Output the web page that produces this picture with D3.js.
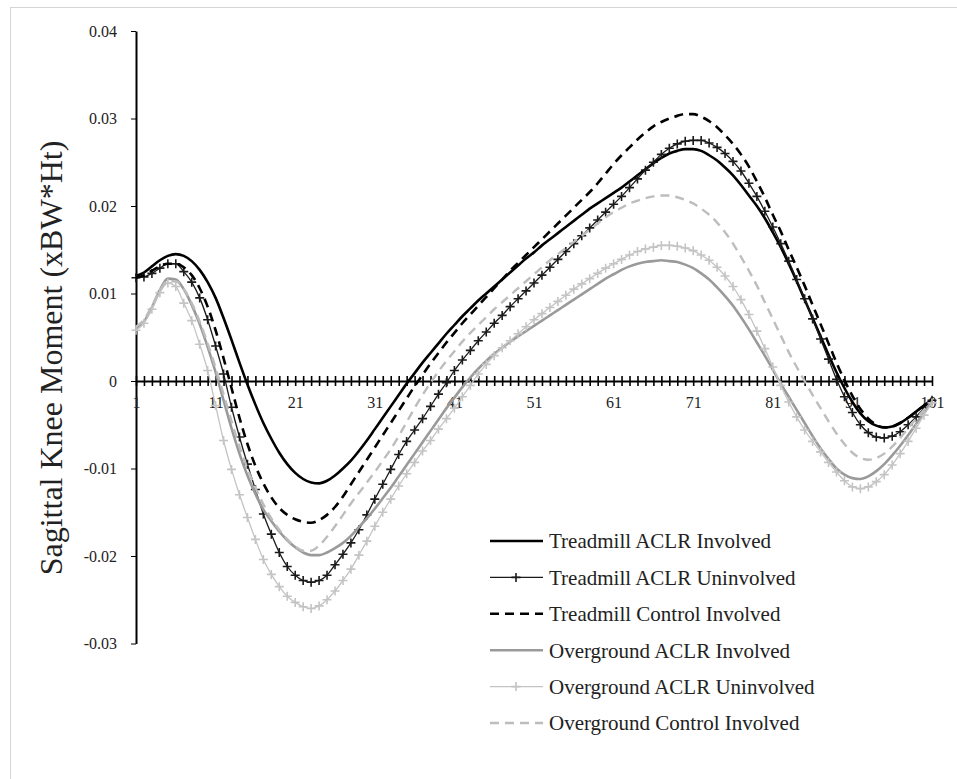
<!DOCTYPE html>
<html lang="en">
<head>
  <meta charset="UTF-8">
  <script src="https://d3js.org/d3.v7.min.js"></script>
  <title>Sagittal Knee Moment</title>
  <style>
  body {
    margin:0;
    background-color:#fff;
    font-family: "Liberation Serif", "Times New Roman", serif;
  }
  .axis text {
    font-family: "Liberation Serif", "Times New Roman", serif;
    font-size:16px;
    fill:#222;
  }
  .axis path, .axis line {
    stroke:#000;
  }
  .legend text {
    font-size:21px;
    fill:#222;
  }
  </style>
</head>
<body>
  <svg id="chart" width="957" height="779"></svg>

  <script>
  // % of stance (x categories)
  const stance = d3.range(1, 102);
  const xLabels = [1, 11, 21, 31, 41, 51, 61, 71, 81, 91, 101];
  const yTicks = [-0.03, -0.02, -0.01, 0, 0.01, 0.02, 0.03, 0.04];

  const seriesNames = ["Treadmill ACLR Involved", "Treadmill ACLR Uninvolved", "Treadmill Control Involved",
    "Overground ACLR Involved", "Overground ACLR Uninvolved", "Overground Control Involved"];

  const tmAclrInv = [
    0.0120, 0.0124, 0.0131, 0.0138, 0.0143, 0.0145, 0.0143, 0.0137, 0.0127, 0.0113,
    0.0095, 0.0072, 0.0047, 0.0021, -0.0004, -0.0027, -0.0048, -0.0066, -0.0082, -0.0095,
    -0.0105, -0.0112, -0.0116, -0.0117, -0.0114, -0.0108, -0.0100, -0.0091, -0.0080, -0.0068,
    -0.0055, -0.0042, -0.0029, -0.0016, -0.0003, 0.0009, 0.0021, 0.0032, 0.0043, 0.0054,
    0.0064, 0.0074, 0.0083, 0.0092, 0.0100, 0.0108, 0.0116, 0.0124, 0.0132, 0.0140,
    0.0147, 0.0155, 0.0162, 0.0169, 0.0176, 0.0183, 0.0190, 0.0197, 0.0203, 0.0209,
    0.0215, 0.0221, 0.0228, 0.0235, 0.0242, 0.0249, 0.0255, 0.0260, 0.0263, 0.0265,
    0.0265, 0.0263, 0.0258, 0.0252, 0.0244, 0.0235, 0.0224, 0.0212, 0.0200, 0.0186,
    0.0170, 0.0153, 0.0134, 0.0114, 0.0093, 0.0072, 0.0051, 0.0030, 0.0010, -0.0008,
    -0.0024, -0.0037, -0.0046, -0.0051, -0.0053, -0.0052, -0.0048, -0.0042, -0.0035, -0.0028, -0.0021];

  const tmAclrUninv = [
    0.0118, 0.0119, 0.0123, 0.0129, 0.0134, 0.0134, 0.0125, 0.0113, 0.0095, 0.0070,
    0.0040, 0.0008, -0.0030, -0.0064, -0.0095, -0.0124, -0.0152, -0.0175, -0.0196, -0.0212,
    -0.0222, -0.0228, -0.0230, -0.0228, -0.0222, -0.0210, -0.0198, -0.0185, -0.0170, -0.0153,
    -0.0135, -0.0118, -0.0101, -0.0084, -0.0069, -0.0056, -0.0043, -0.0029, -0.0015, -0.0002,
    0.0012, 0.0024, 0.0035, 0.0046, 0.0056, 0.0066, 0.0075, 0.0085, 0.0094, 0.0103,
    0.0112, 0.0121, 0.0130, 0.0139, 0.0148, 0.0157, 0.0166, 0.0175, 0.0184, 0.0193,
    0.0202, 0.0211, 0.0221, 0.0231, 0.0241, 0.0250, 0.0259, 0.0266, 0.0271, 0.0274,
    0.0275, 0.0275, 0.0272, 0.0267, 0.0260, 0.0251, 0.0240, 0.0226, 0.0211, 0.0194,
    0.0176, 0.0157, 0.0137, 0.0116, 0.0094, 0.0071, 0.0048, 0.0025, 0.0002, -0.0018,
    -0.0036, -0.0050, -0.0059, -0.0064, -0.0065, -0.0063, -0.0058, -0.0050, -0.0041, -0.0031, -0.0022];

  const tmCtrlInv = [
    0.0118, 0.0121, 0.0126, 0.0131, 0.0134, 0.0134, 0.0130, 0.0121, 0.0106, 0.0085,
    0.0058, 0.0026, -0.0008, -0.0042, -0.0072, -0.0097, -0.0117, -0.0133, -0.0145, -0.0153,
    -0.0158, -0.0161, -0.0162, -0.0159, -0.0153, -0.0144, -0.0132, -0.0118, -0.0104, -0.0090,
    -0.0076, -0.0062, -0.0048, -0.0034, -0.0020, -0.0006, 0.0007, 0.0020, 0.0032, 0.0044,
    0.0055, 0.0066, 0.0076, 0.0086, 0.0096, 0.0106, 0.0116, 0.0126, 0.0135, 0.0144,
    0.0153, 0.0162, 0.0171, 0.0180, 0.0189, 0.0198, 0.0207, 0.0216, 0.0226, 0.0237,
    0.0248, 0.0258, 0.0267, 0.0276, 0.0284, 0.0291, 0.0296, 0.0300, 0.0303, 0.0305,
    0.0305, 0.0302, 0.0297, 0.0290, 0.0281, 0.0271, 0.0259, 0.0245, 0.0228, 0.0210,
    0.0190, 0.0171, 0.0150, 0.0130, 0.0109, 0.0087, 0.0065, 0.0043, 0.0021, 0.0001,
    -0.0017, -0.0032, -0.0043, -0.0050, -0.0053, -0.0052, -0.0048, -0.0042, -0.0035, -0.0028, -0.0022];

  const ogAclrInv = [
    0.0060, 0.0068, 0.0084, 0.0104, 0.0117, 0.0116, 0.0105, 0.0087, 0.0065, 0.0039,
    0.0010, -0.0022, -0.0054, -0.0083, -0.0108, -0.0129, -0.0147, -0.0160, -0.0172, -0.0182,
    -0.0190, -0.0196, -0.0199, -0.0199, -0.0196, -0.0191, -0.0185, -0.0177, -0.0167, -0.0157,
    -0.0146, -0.0134, -0.0122, -0.0109, -0.0096, -0.0083, -0.0070, -0.0057, -0.0044, -0.0031,
    -0.0019, -0.0007, 0.0004, 0.0014, 0.0023, 0.0031, 0.0038, 0.0045, 0.0051, 0.0057,
    0.0063, 0.0069, 0.0075, 0.0081, 0.0087, 0.0093, 0.0099, 0.0105, 0.0111, 0.0117,
    0.0122, 0.0127, 0.0131, 0.0134, 0.0136, 0.0137, 0.0138, 0.0137, 0.0136, 0.0133,
    0.0129, 0.0123, 0.0116, 0.0107, 0.0097, 0.0086, 0.0073, 0.0059, 0.0044, 0.0029,
    0.0013, -0.0003, -0.0018, -0.0033, -0.0048, -0.0063, -0.0077, -0.0089, -0.0100, -0.0107,
    -0.0111, -0.0112, -0.0109, -0.0103, -0.0095, -0.0085, -0.0074, -0.0062, -0.0049, -0.0036, -0.0024];

  const ogAclrUninv = [
    0.0058, 0.0066, 0.0082, 0.0101, 0.0112, 0.0108, 0.0089, 0.0069, 0.0042, 0.0012,
    -0.0028, -0.0068, -0.0101, -0.0130, -0.0156, -0.0181, -0.0204, -0.0221, -0.0235, -0.0246,
    -0.0253, -0.0258, -0.0260, -0.0257, -0.0250, -0.0240, -0.0228, -0.0215, -0.0199, -0.0183,
    -0.0166, -0.0150, -0.0135, -0.0120, -0.0106, -0.0093, -0.0080, -0.0068, -0.0055, -0.0043,
    -0.0031, -0.0018, -0.0005, 0.0008, 0.0019, 0.0029, 0.0038, 0.0046, 0.0054, 0.0062,
    0.0070, 0.0077, 0.0084, 0.0091, 0.0098, 0.0105, 0.0111, 0.0117, 0.0123, 0.0129,
    0.0134, 0.0139, 0.0144, 0.0148, 0.0151, 0.0153, 0.0155, 0.0155, 0.0154, 0.0152,
    0.0149, 0.0144, 0.0138, 0.0130, 0.0120, 0.0108, 0.0093, 0.0076, 0.0057, 0.0037,
    0.0016, -0.0005, -0.0024, -0.0041, -0.0056, -0.0069, -0.0081, -0.0093, -0.0104, -0.0114,
    -0.0121, -0.0123, -0.0121, -0.0115, -0.0107, -0.0096, -0.0083, -0.0069, -0.0054, -0.0039, -0.0025];

  const ogCtrlInv = [
    0.0062, 0.0070, 0.0086, 0.0103, 0.0114, 0.0114, 0.0105, 0.0089, 0.0068, 0.0043,
    0.0015, -0.0015, -0.0046, -0.0075, -0.0100, -0.0122, -0.0141, -0.0157, -0.0170, -0.0181,
    -0.0189, -0.0194, -0.0194, -0.0188, -0.0178, -0.0166, -0.0153, -0.0140, -0.0128, -0.0116,
    -0.0104, -0.0091, -0.0078, -0.0063, -0.0047, -0.0031, -0.0016, -0.0002, 0.0011, 0.0023,
    0.0034, 0.0045, 0.0055, 0.0064, 0.0073, 0.0082, 0.0090, 0.0098, 0.0106, 0.0114,
    0.0122, 0.0130, 0.0138, 0.0145, 0.0152, 0.0159, 0.0166, 0.0173, 0.0180, 0.0187,
    0.0193, 0.0198, 0.0203, 0.0206, 0.0209, 0.0211, 0.0212, 0.0212, 0.0210, 0.0207,
    0.0203, 0.0197, 0.0190, 0.0181, 0.0170, 0.0157, 0.0142, 0.0126, 0.0109, 0.0090,
    0.0071, 0.0052, 0.0033, 0.0016, 0.0000, -0.0016, -0.0031, -0.0046, -0.0060, -0.0072,
    -0.0082, -0.0088, -0.0090, -0.0088, -0.0083, -0.0075, -0.0065, -0.0054, -0.0043, -0.0033, -0.0024];

  const seriesValues = [tmAclrInv, tmAclrUninv, tmCtrlInv, ogAclrInv, ogAclrUninv, ogCtrlInv];

  // line styles, one per series (Excel style greys)
  const styles = [
    {color:"#000", width:2.6, dash:null, marker:false},
    {color:"#1a1a1a", width:1.3, dash:null, marker:true},
    {color:"#000", width:2.6, dash:"9,6", marker:false},
    {color:"#9a9a9a", width:2.6, dash:null, marker:false},
    {color:"#c4c4c4", width:1.3, dash:null, marker:true},
    {color:"#bdbdbd", width:2.4, dash:"9,6", marker:false}
  ];

  let svg = d3.select("#chart");

  // chart area border
  svg.append("rect")
    .attr("x", 10.5).attr("y", 7.5)
    .attr("width", 980).attr("height", 800)
    .style("fill", "none")
    .style("stroke", "#d4d4d4");

  let x = d3.scaleLinear().domain([1, 101]).range([136, 932]);
  let y = d3.scaleLinear().domain([-0.03, 0.04]).range([643.5, 31]);

  // y axis
  let yAxis = d3.axisLeft(y)
    .tickValues(yTicks)
    .tickSize(5)
    .tickSizeOuter(0)
    .tickPadding(14)
    .tickFormat(d => d === 0 ? "0" : d.toFixed(2));

  svg.append("g")
    .attr("class", "axis")
    .attr("transform", "translate(" + x(1) + ",0)")
    .call(yAxis)
    .call(g => g.select(".domain").style("stroke-width", 2));

  // x axis through zero, cross tick marks at every point
  let xAxis = d3.axisBottom(x)
    .tickValues(stance)
    .tickSize(5)
    .tickSizeOuter(0)
    .tickPadding(11)
    .tickFormat(d => xLabels.includes(d) ? d : "");

  svg.append("g")
    .attr("class", "axis")
    .attr("transform", "translate(0," + y(0) + ")")
    .call(xAxis)
    .call(g => g.select(".domain").style("stroke-width", 2))
    .call(g => g.selectAll(".tick line").attr("y1", -5).style("stroke-width", 1.6));

  // y axis title
  svg.append("text")
    .attr("transform", "translate(62,358) rotate(-90)")
    .attr("text-anchor", "middle")
    .style("font-size", "32px")
    .style("fill", "#222")
    .text("Sagittal Knee Moment (xBW*Ht)");

  let line = d3.line()
    .x((d, i) => x(stance[i]))
    .y(d => y(d))
    .curve(d3.curveMonotoneX);

  let plus = "M-4.5,0H4.5M0,-4.5V4.5";

  seriesValues.forEach(function(vals, s) {
    let st = styles[s];
    let g = svg.append("g").attr("class", "series");

    g.append("path")
      .datum(vals)
      .attr("d", line)
      .style("fill", "none")
      .style("stroke", st.color)
      .style("stroke-width", st.width)
      .style("stroke-dasharray", st.dash);

    if (st.marker) {
      g.selectAll(".mk").data(vals)
        .enter()
        .append("path")
        .attr("class", "mk")
        .attr("transform", (d, i) => "translate(" + x(stance[i]) + "," + y(d) + ")")
        .attr("d", plus)
        .style("stroke", st.color)
        .style("stroke-width", 1.6);
    }
  });

  // legend
  let legend = svg.append("g").attr("class", "legend");

  seriesNames.forEach(function(name, i) {
    let st = styles[i];
    let ly = 541 + i * 36.4;

    legend.append("line")
      .attr("x1", 490).attr("x2", 543)
      .attr("y1", ly).attr("y2", ly)
      .style("stroke", st.color)
      .style("stroke-width", st.width)
      .style("stroke-dasharray", st.dash);

    if (st.marker) {
      legend.append("path")
        .attr("transform", "translate(516," + ly + ")")
        .attr("d", plus)
        .style("stroke", st.color)
        .style("stroke-width", 1.6);
    }

    legend.append("text")
      .attr("x", 549)
      .attr("y", ly)
      .attr("dy", "0.35em")
      .text(name);
  });
  </script>
</body>
</html>
